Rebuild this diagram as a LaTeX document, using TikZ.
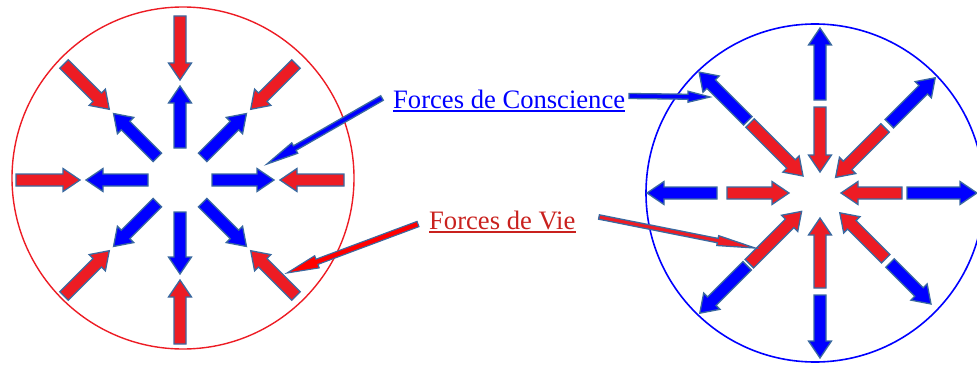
\documentclass[tikz,border=0pt]{standalone}
\usepackage{fontspec}
\setmainfont{Liberation Serif}
\usetikzlibrary{calc}
\definecolor{outl}{RGB}{58,105,160}
\definecolor{bfill}{RGB}{0,0,255}
\definecolor{rfill}{RGB}{237,28,36}
\definecolor{cred}{RGB}{255,0,0}
\definecolor{tred}{RGB}{201,33,30}
\definecolor{tblue}{RGB}{0,0,255}
\newcommand{\fatarrow}[6]{%
  \path ($(#2)!#5!(#1)$) coordinate (hb);
  \filldraw[#6] ($(#1)!#3!90:(#2)$) -- ($(hb)!#3!90:(#2)$) -- ($(hb)!#4!90:(#2)$) -- (#2) -- ($(hb)!#4!-90:(#2)$) -- ($(hb)!#3!-90:(#2)$) -- ($(#1)!#3!-90:(#2)$) -- cycle;}
\tikzset{
  bluearr/.style={fill=bfill, draw=outl, line width=1.3pt, line join=miter},
  redarr/.style={fill=rfill, draw=outl, line width=1.3pt, line join=miter},
  conred/.style={fill=cred, draw=outl, line width=1.1pt, line join=miter},
  label/.style={inner sep=0pt, anchor=base west, font=\fontsize{26.6}{30}\selectfont}
}
\begin{document}
\begin{tikzpicture}[x=1pt, y=1pt]
\useasboundingbox (0,0) rectangle (977,365);
\clip (0,0) rectangle (977,365);
% circles
\coordinate (LC) at (183,187);
\coordinate (RC) at (815,172);
\draw[rfill, line width=1.4pt] (LC) circle (171);
\draw[bfill, line width=1.6pt] (RC) circle (169);
% left star
\coordinate (L) at (180,185);
\foreach \a in {0,45,...,315} {
  \coordinate (p) at ($(L)+(\a:32)$);
  \coordinate (q) at ($(L)+(\a:94)$);
  \fatarrow{p}{q}{6pt}{11.5pt}{17pt}{bluearr}
  \coordinate (p) at ($(L)+(\a:164)$);
  \coordinate (q) at ($(L)+(\a:100)$);
  \fatarrow{p}{q}{6pt}{11.5pt}{17pt}{redarr}
}
% right star
\coordinate (R) at (820,172);
\foreach \a/\rt/\rh/\bt/\bh in {0/82/21/87/157, 180/93/31/103/173, 90/86/21/93/165, 270/95/25/102/165,
  135/99/24/102/171, 45/92/22/98/163, 225/100/26/103/170, 315/93/28/99/157} {
  \coordinate (p) at ($(R)+(\a:\bt)$);
  \coordinate (q) at ($(R)+(\a:\bh)$);
  \fatarrow{p}{q}{6pt}{11.5pt}{17pt}{bluearr}
  \coordinate (p) at ($(R)+(\a:\rt)$);
  \coordinate (q) at ($(R)+(\a:\rh)$);
  \fatarrow{p}{q}{6pt}{11.5pt}{17pt}{redarr}
}
% labels
\node[label, text=tblue] (cons) at (393,257) {Forces de Conscience};
\draw[tblue, line width=1.8pt] ($(cons.base west)+(0,-3)$) -- ($(cons.base east)+(0,-3)$);
\node[label, text=tred] (vie) at (429,136) {Forces de Vie};
\draw[tred, line width=1.8pt] ($(vie.base west)+(0,-3)$) -- ($(vie.base east)+(0,-3)$);
% connectors
\coordinate (c1t) at (382,267); \coordinate (c1h) at (267,201);
\coordinate (c2t) at (418,141); \coordinate (c2h) at (287,92);
\coordinate (c3t) at (629,269); \coordinate (c3h) at (710,268);
\coordinate (c4t) at (599,148); \coordinate (c4h) at (755,117);
\fatarrow{c1t}{c1h}{2.6pt}{6pt}{32pt}{bluearr}
\fatarrow{c2t}{c2h}{2.8pt}{6.5pt}{32pt}{conred}
\fatarrow{c3t}{c3h}{2.5pt}{5.5pt}{22pt}{bluearr}
\fatarrow{c4t}{c4h}{2.2pt}{5pt}{38pt}{redarr}
\end{tikzpicture}
\end{document}
